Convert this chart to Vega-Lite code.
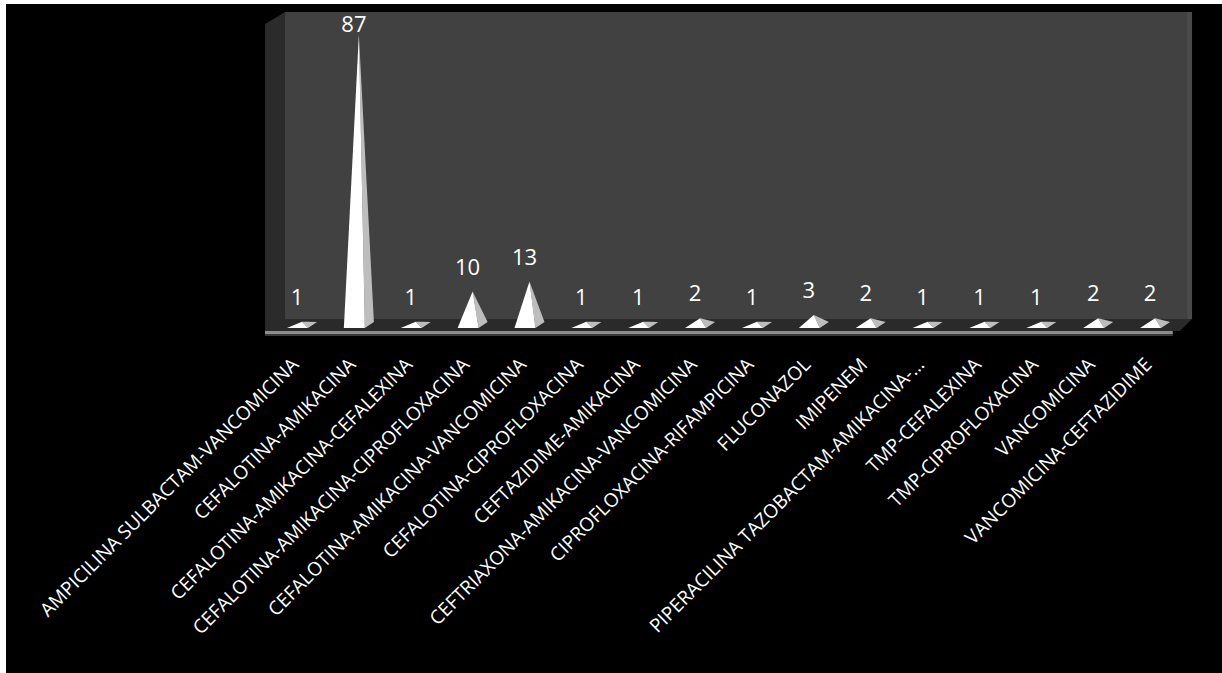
{
  "$schema": "https://vega.github.io/schema/vega-lite/v6.json",
  "width": 1216,
  "height": 669,
  "autosize": {"type": "none"},
  "padding": {"left": 6, "top": 4, "right": 0, "bottom": 0},
  "background": "white",
  "config": {"view": {"fill": "black", "stroke": null}},
  "datasets": {
    "drugs": [
      {"drug": "AMPICILINA SULBACTAM-VANCOMICINA", "count": 1},
      {"drug": "CEFALOTINA-AMIKACINA", "count": 87},
      {"drug": "CEFALOTINA-AMIKACINA-CEFALEXINA", "count": 1},
      {"drug": "CEFALOTINA-AMIKACINA-CIPROFLOXACINA", "count": 10},
      {"drug": "CEFALOTINA-AMIKACINA-VANCOMICINA", "count": 13},
      {"drug": "CEFALOTINA-CIPROFLOXACINA", "count": 1},
      {"drug": "CEFTAZIDIME-AMIKACINA", "count": 1},
      {"drug": "CEFTRIAXONA-AMIKACINA-VANCOMICINA", "count": 2},
      {"drug": "CIPROFLOXACINA-RIFAMPICINA", "count": 1},
      {"drug": "FLUCONAZOL", "count": 3},
      {"drug": "IMIPENEM", "count": 2},
      {"drug": "PIPERACILINA TAZOBACTAM-AMIKACINA-…", "count": 1},
      {"drug": "TMP-CEFALEXINA", "count": 1},
      {"drug": "TMP-CIPROFLOXACINA", "count": 1},
      {"drug": "VANCOMICINA", "count": 2},
      {"drug": "VANCOMICINA-CEFTAZIDIME", "count": 2}
    ],
    "scene": [{}]
  },
  "layer": [
    {
      "data": {"name": "scene"},
      "mark": {"type": "rect", "fill": "#414141"},
      "encoding": {
        "x": {"datum": -0.211, "type": "quantitative", "scale": {"domain": [-5.117, 16.265], "nice": false, "zero": false}, "axis": null},
        "x2": {"datum": 15.738},
        "y": {"datum": 93.71, "type": "quantitative", "scale": {"domain": [-104.19, 96.11], "nice": false, "zero": false}, "axis": null},
        "y2": {"datum": 1.8}
      }
    },
    {
      "data": {"name": "scene"},
      "mark": {"type": "rect", "fill": "#4a4a4a"},
      "encoding": {
        "x": {"datum": 15.65, "type": "quantitative", "scale": {"domain": [-5.117, 16.265], "nice": false, "zero": false}, "axis": null},
        "x2": {"datum": 15.738},
        "y": {"datum": 93.71, "type": "quantitative", "scale": {"domain": [-104.19, 96.11], "nice": false, "zero": false}, "axis": null},
        "y2": {"datum": 1.8}
      }
    },
    {
      "data": {"name": "scene"},
      "mark": {"type": "rect", "fill": "#2b2b2b"},
      "encoding": {
        "x": {"datum": -0.563, "type": "quantitative", "scale": {"domain": [-5.117, 16.265], "nice": false, "zero": false}, "axis": null},
        "x2": {"datum": -0.211},
        "y": {"datum": 93.71, "type": "quantitative", "scale": {"domain": [-104.19, 96.11], "nice": false, "zero": false}, "axis": null},
        "y2": {"datum": -1.8}
      }
    },
    {
      "data": {"name": "scene"},
      "mark": {"type": "rect", "fill": "#2a2a2a"},
      "encoding": {
        "x": {"datum": -0.563, "type": "quantitative", "scale": {"domain": [-5.117, 16.265], "nice": false, "zero": false}, "axis": null},
        "x2": {"datum": 15.738},
        "y": {"datum": 1.8, "type": "quantitative", "scale": {"domain": [-104.19, 96.11], "nice": false, "zero": false}, "axis": null},
        "y2": {"datum": -1.8}
      }
    },
    {
      "data": {"name": "scene"},
      "mark": {"type": "rect", "fill": "#8c8c8c"},
      "encoding": {
        "x": {"datum": -0.563, "type": "quantitative", "scale": {"domain": [-5.117, 16.265], "nice": false, "zero": false}, "axis": null},
        "x2": {"datum": 15.40},
        "y": {"datum": -1.8, "type": "quantitative", "scale": {"domain": [-104.19, 96.11], "nice": false, "zero": false}, "axis": null},
        "y2": {"datum": -2.69}
      }
    },
    {
      "data": {"name": "scene"},
      "mark": {"type": "rect", "fill": "#383838"},
      "encoding": {
        "x": {"datum": -0.563, "type": "quantitative", "scale": {"domain": [-5.117, 16.265], "nice": false, "zero": false}, "axis": null},
        "x2": {"datum": 15.40},
        "y": {"datum": -2.69, "type": "quantitative", "scale": {"domain": [-104.19, 96.11], "nice": false, "zero": false}, "axis": null},
        "y2": {"datum": -3.29}
      }
    },
    {
      "data": {"name": "scene"},
      "mark": {"type": "point", "shape": "M-1,-1L1,-1L-1,0.2Z", "filled": true, "fill": "black", "fillOpacity": 1, "strokeWidth": 0, "size": 400},
      "encoding": {
        "x": {"datum": -0.387, "type": "quantitative", "scale": {"domain": [-5.117, 16.265], "nice": false, "zero": false}, "axis": null},
        "y": {"datum": 90.72, "type": "quantitative", "scale": {"domain": [-104.19, 96.11], "nice": false, "zero": false}, "axis": null}
      }
    },
    {
      "data": {"name": "scene"},
      "mark": {"type": "point", "shape": "M1.1,-0.8L1.1,1.2L-0.9,1.2Z", "filled": true, "fill": "black", "fillOpacity": 1, "strokeWidth": 0, "size": 400},
      "encoding": {
        "x": {"datum": 15.56, "type": "quantitative", "scale": {"domain": [-5.117, 16.265], "nice": false, "zero": false}, "axis": null},
        "y": {"datum": -0.3, "type": "quantitative", "scale": {"domain": [-104.19, 96.11], "nice": false, "zero": false}, "axis": null}
      }
    },
    {
      "data": {"name": "drugs"},
      "transform": [
        {"window": [{"op": "row_number", "as": "n"}]},
        {"calculate": "[0,1,2]", "as": "k"},
        {"flatten": ["k"]},
        {"calculate": "datum.n - 1 + [0.088, 0.193, 0.352][datum.k]", "as": "gx"},
        {"calculate": "[datum.count, 0.6 * datum.count + 0.36, 0.9][datum.k]", "as": "gy"},
        {"calculate": "[datum.count, -0.9, 0.9][datum.k]", "as": "gy2"}
      ],
      "mark": {"type": "area", "fill": "#bdbdbd", "orient": "vertical"},
      "encoding": {
        "x": {"field": "gx", "type": "quantitative", "scale": {"domain": [-5.117, 16.265], "nice": false, "zero": false}, "axis": null},
        "y": {"field": "gy", "type": "quantitative", "scale": {"domain": [-104.19, 96.11], "nice": false, "zero": false}, "axis": null},
        "y2": {"field": "gy2"},
        "detail": {"field": "drug"}
      }
    },
    {
      "data": {"name": "drugs"},
      "transform": [
        {"window": [{"op": "row_number", "as": "n"}]},
        {"calculate": "[0,1,2]", "as": "k"},
        {"flatten": ["k"]},
        {"calculate": "datum.n - 1 + [-0.176, 0.088, 0.193][datum.k]", "as": "fx"},
        {"calculate": "datum.k == 1 ? datum.count : -0.9", "as": "fy"}
      ],
      "mark": {"type": "area", "fill": "#ffffff", "orient": "vertical"},
      "encoding": {
        "x": {"field": "fx", "type": "quantitative", "scale": {"domain": [-5.117, 16.265], "nice": false, "zero": false}, "axis": null},
        "y": {"field": "fy", "type": "quantitative", "scale": {"domain": [-104.19, 96.11], "nice": false, "zero": false}, "axis": null},
        "y2": {"datum": -0.9},
        "detail": {"field": "drug"}
      }
    },
    {
      "data": {"name": "drugs"},
      "transform": [
        {"window": [{"op": "row_number", "as": "n"}]},
        {"calculate": "datum.n - 1", "as": "i"},
        {"calculate": "min(datum.count + 7.2, 89.8)", "as": "ly"}
      ],
      "mark": {"type": "text", "font": "Open Sans", "fontSize": 22, "fill": "white", "align": "center", "baseline": "middle"},
      "encoding": {
        "x": {"field": "i", "type": "quantitative", "scale": {"domain": [-5.117, 16.265], "nice": false, "zero": false}, "axis": null},
        "y": {"field": "ly", "type": "quantitative", "scale": {"domain": [-104.19, 96.11], "nice": false, "zero": false}, "axis": null},
        "text": {"field": "count", "type": "quantitative"}
      }
    },
    {
      "data": {"name": "drugs"},
      "transform": [
        {"window": [{"op": "row_number", "as": "n"}]},
        {"calculate": "datum.n - 1", "as": "i"}
      ],
      "mark": {"type": "text", "font": "Open Sans", "fontSize": 19, "fill": "white", "align": "right", "baseline": "middle", "angle": -45, "dy": -2},
      "encoding": {
        "x": {"field": "i", "type": "quantitative", "scale": {"domain": [-5.117, 16.265], "nice": false, "zero": false}, "axis": null},
        "y": {"datum": -11.38, "type": "quantitative", "scale": {"domain": [-104.19, 96.11], "nice": false, "zero": false}, "axis": null},
        "text": {"field": "drug", "type": "nominal"}
      }
    }
  ]
}
